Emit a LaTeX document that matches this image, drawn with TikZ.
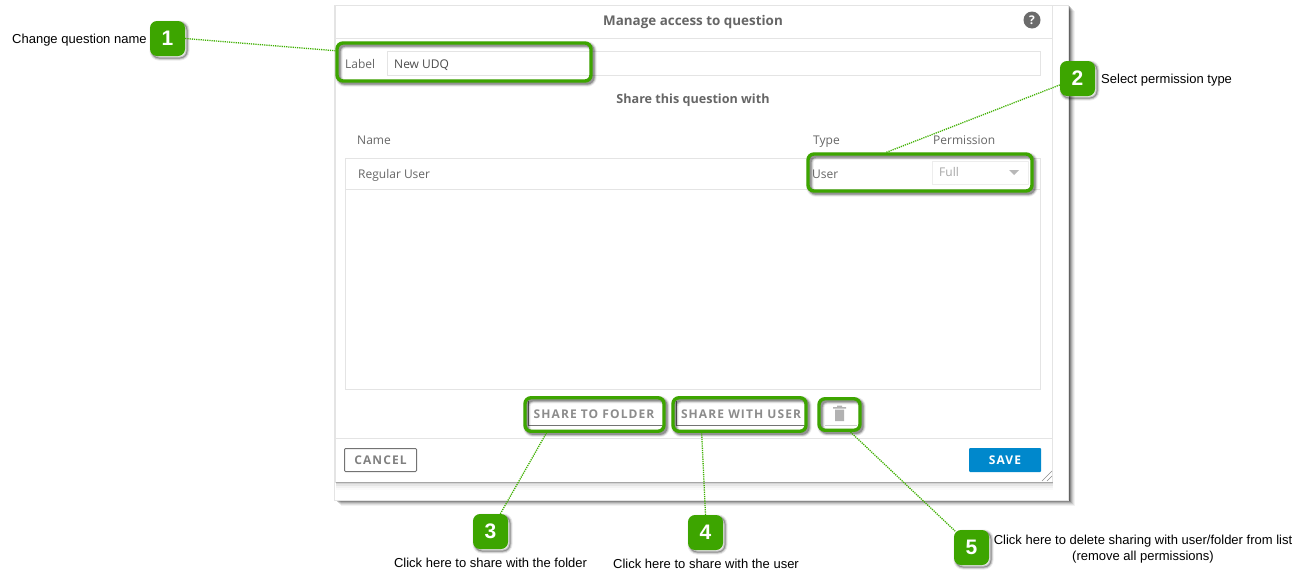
\documentclass[tikz,border=0pt]{standalone}
\usepackage{fontspec}
\setmainfont{Liberation Sans}
\newfontfamily\ui{Open Sans}
\newfontfamily\uibtn[LetterSpace=9]{Open Sans}
\usetikzlibrary{calc}
\definecolor{grn}{HTML}{3DA500}
\definecolor{dotgrn}{HTML}{3FB000}
\definecolor{uitext}{HTML}{666666}
\definecolor{uiline}{HTML}{E4E4E4}
\definecolor{blue}{HTML}{0088CC}
\tikzset{
  x=1pt,y=-1pt,
  softshadow/.style={
    preaction={draw=black,draw opacity=.08,line width=#1+4pt,transform canvas={shift={(2pt,-2pt)}}},
    preaction={draw=black,draw opacity=.16,line width=#1+2pt,transform canvas={shift={(2pt,-2pt)}}},
    preaction={draw=black,draw opacity=.26,line width=#1,transform canvas={shift={(2pt,-2pt)}}}},
  hl/.style={draw=grn,line width=3.4pt,rounded corners=6pt,inner sep=0pt,minimum width=#1,softshadow=3.4pt},
  badge/.style={fill=grn,rounded corners=7pt,minimum width=35pt,minimum height=35pt,inner sep=0pt,
    text=white,font=\fontsize{21}{21}\selectfont\bfseries,softshadow=1pt},
  note/.style={inner sep=0pt,text=black,font=\fontsize{13}{15}\selectfont},
  uilabel/.style={inner sep=0pt,text=uitext,font=\ui\fontsize{12}{14}\selectfont},
  uihead/.style={inner sep=0pt,text=uitext,font=\ui\bfseries\fontsize{#1}{14}\selectfont},
  btntext/.style={inner sep=0pt,font=\uibtn\bfseries\fontsize{12}{14}\selectfont},
  leader/.style={draw=dotgrn,line width=1.3pt,dash pattern=on 1.2pt off 1pt},
}
\begin{document}
\begin{tikzpicture}
\useasboundingbox (0,0) rectangle (1313,587);
\fill[white] (0,0) rectangle (1313,587);
% dialog frame and shadow
\foreach \o/\a in {6/.05,5/.07,4/.10,3/.14,2/.20,1/.28}
  \fill[black,fill opacity=\a] (334.5+\o,5+\o) rectangle (1068.5+\o,500+\o);
\draw[draw=uiline,fill=white] (334.5,5) rectangle (1068.5,500);
\foreach \o/\a in {8/.02,6/.03,4/.05,2/.08}
  \fill[black,fill opacity=\a] (335.5,482) rectangle (1052.5,482+\o);
\draw[draw=uiline,fill=white] (335.5,5.5) rectangle (1052.5,482);
\draw[draw=black!35] (335.5,482) -- (1052.5,482);
\draw[uiline] (335.5,38) -- (1052.5,38);
\draw[uiline] (335.5,438) -- (1052.5,438);
% input
\draw[uiline] (387,51) rectangle (1040.5,75);
% table
\draw[uiline] (345,158) rectangle (1040.5,389);
\draw[uiline] (345,189) -- (1040.5,189);
\draw[black!7] (932,161) rectangle (1028,184);
\fill[black!28] (1009,170) -- (1019,170) -- (1014,175) -- cycle;
% resize handle
\draw[black!45] (1042,481) -- (1052,471) (1047,481) -- (1052,476);
% help icon
\node[circle,fill=black!58,minimum size=17pt,inner sep=0pt,text=white,font=\ui\bfseries\fontsize{12}{12}\selectfont] (help) at (1032,20) {?};
% texts of dialog
\node[uihead=13.4,anchor=base] (title) at (693,25) {Manage access to question};
\node[uilabel,anchor=base west] (lbl) at (345,68) {Label};
\node[uilabel,anchor=base west,text=black!70] (val) at (394,68) {New UDQ};
\node[uihead=12.6,anchor=base] (share) at (693,103) {Share this question with};
\node[uilabel,anchor=base west] (hname) at (357,144) {Name};
\node[uilabel,anchor=base west] (htype) at (813,144) {Type};
\node[uilabel,anchor=base west] (hperm) at (933,144) {Permission};
\node[uilabel,anchor=base west] (rname) at (358,178) {Regular User};
\node[uilabel,anchor=base west] (rtype) at (812,178) {User};
\node[uilabel,anchor=base west,text=black!35] (rperm) at (939,176) {Full};
% buttons
\draw[black!55] (528,425) -- (528,401) (528,425) -- (662,425);
\draw[black!55] (676,425) -- (676,401) (676,425) -- (804,425);
\draw[black!20] (825,425) -- (857,425);
\node[btntext,anchor=base,text=black!45] (bf) at (594,418) {SHARE TO FOLDER};
\node[btntext,anchor=base,text=black!45] (bu) at (741,418) {SHARE WITH USER};
\fill[black!30] (835,409.5) rectangle (844,421) (833,407) rectangle (846,408.5) (837,405.5) rectangle (842,407);
% cancel / save
\node[draw=black!55,solid,line width=1pt,rounded corners=1pt,minimum width=72pt,minimum height=23pt,inner sep=0pt,text=black!50,font=\uibtn\bfseries\fontsize{12}{14}\selectfont] (cancel) at (380.5,460) {CANCEL};
\node[fill=blue,rounded corners=1pt,minimum width=72pt,minimum height=24pt,inner sep=0pt,text=white,font=\uibtn\bfseries\fontsize{12}{14}\selectfont] (save) at (1005,460) {SAVE};
% highlight boxes
\node[hl=254pt,minimum height=38pt] (box1) at (464,62) {};
\node[hl=224pt,minimum height=37pt] (box2) at (920,172.5) {};
\node[hl=139pt,minimum height=33.5pt] (box3) at (594.5,414.5) {};
\node[hl=133pt,minimum height=33.5pt] (box4) at (739.5,414.5) {};
\node[hl=41pt,minimum height=31.5pt] (box5) at (839.5,414.5) {};
% badges
\node[badge] (b1) at (167.5,38.5) {1};
\node[badge] (b2) at (1077.5,78.5) {2};
\node[badge] (b3) at (490.5,531.5) {3};
\node[badge] (b4) at (705.5,532.5) {4};
\node[badge] (b5) at (971.5,547.5) {5};
% leaders
\draw[leader] (b1.east) -- (box1.175.5);
\draw[leader] (b2.200) -- (box2.149);
\draw[leader] (b3.61.5) -- (box3.201.3);
\draw[leader] (b4.north) -- (box4.206.3);
\draw[leader,shorten <=-2pt] (b5.north west) -- (box5.-58);
% notes
\node[note,anchor=base west] (n1) at (12,43) {Change question name};
\node[note,anchor=base west] (n2) at (1101,83) {Select permission type};
\node[note,anchor=base] (n3) at (490.5,567) {Click here to share with the folder};
\node[note,anchor=base] (n4) at (706,568) {Click here to share with the user};
\node[note,anchor=base,align=center] (n5a) at (1143,544) {Click here to delete sharing with user/folder from list};
\node[note,anchor=base,align=center] (n5b) at (1143,560) {(remove all permissions)};
\end{tikzpicture}
\end{document}
